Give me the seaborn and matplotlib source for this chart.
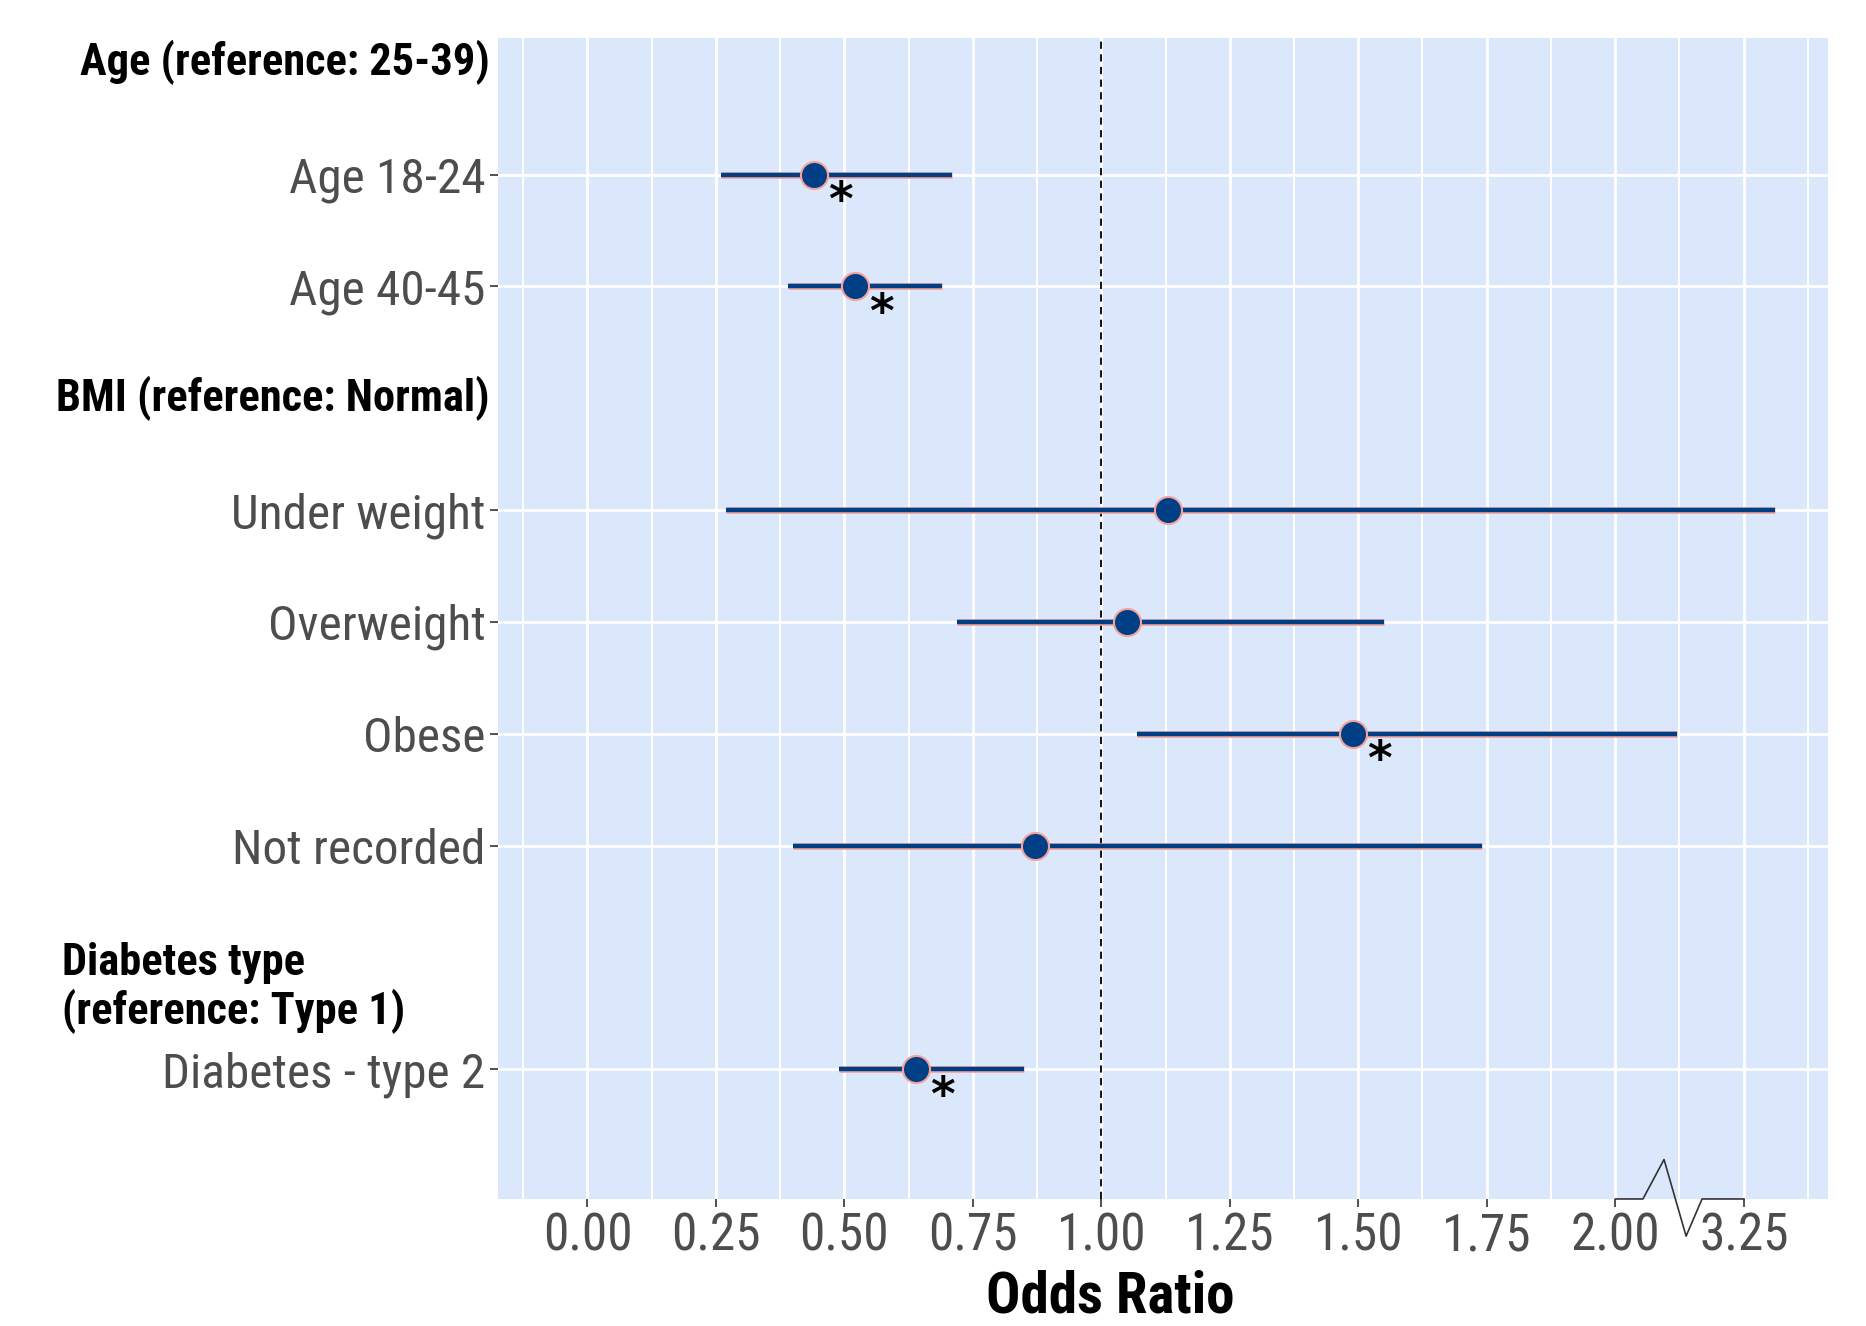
import numpy as np
import pandas as pd
import matplotlib
matplotlib.use("Agg")
import matplotlib.pyplot as plt
import seaborn as sns
from matplotlib.ticker import FixedLocator, FixedFormatter

# data
groups = ["Age (reference: 25-39)", "BMI (reference: Normal)", "Diabetes type\n(reference: Type 1)"]
labels = ["Age 18-24", "Age 40-45", "Under weight", "Overweight", "Obese", "Not recorded", "Diabetes - type 2"]
group_of = [0, 0, 1, 1, 1, 1, 2]
odds = [0.44, 0.52, 1.13, 1.05, 1.49, 0.87, 0.64]
lower = [0.26, 0.39, 0.27, 0.72, 1.07, 0.40, 0.49]
upper = [0.71, 0.69, 3.31, 1.55, 2.12, 1.74, 0.85]
significant = [True, True, False, False, True, False, True]
xticks = [0.0, 0.25, 0.5, 0.75, 1.0, 1.25, 1.5, 1.75, 2.0, 3.25]
xticklabels = ["0.00", "0.25", "0.50", "0.75", "1.00", "1.25", "1.50", "1.75", "2.00", "3.25"]

# rows: each group header followed by its members
rows, row_is_header = [], []
for g, name in enumerate(groups):
    rows.append(name); row_is_header.append(True)
    for lab, gi in zip(labels, group_of):
        if gi == g:
            rows.append(lab); row_is_header.append(False)
ypos = {r: i for i, r in enumerate(rows)}

df = pd.DataFrame({"label": labels, "odds": odds, "lower": lower, "upper": upper,
                   "sig": significant})
df["row"] = df["label"].map(ypos)

# broken x axis: 2.2 .. 3.2 squeezed to nothing
eps = 1e-3
real_pts = np.array([-5.0, 2.2, 3.2, 10.0])
disp_pts = np.array([-5.0, 2.2, 2.2 + eps, 2.2 + eps + 6.8])
fwd = lambda x: np.interp(x, real_pts, disp_pts)
inv = lambda x: np.interp(x, disp_pts, real_pts)

sns.set_theme(style="white")
plt.rcParams["font.family"] = ["Roboto Condensed", "DejaVu Sans"]

fig = plt.figure(figsize=(18.66, 13.26), dpi=100)
ax = fig.add_axes([0.2669, 0.0958, 0.7127, 0.8755])
ax.set_facecolor("#DBE8FC")
ax.set_xscale("function", functions=(fwd, inv))
ax.set_xlim(-0.174, 3.413)
ax.set_ylim(len(rows) - 1 + 1.16, -0.22)

# grid
minor = [-0.125, 0.125, 0.375, 0.625, 0.875, 1.125, 1.375, 1.625, 1.875, 2.125, 3.375]
for v in minor:
    ax.axvline(v, color="white", lw=1.4, zorder=0)
for v in xticks:
    ax.axvline(v, color="white", lw=2.0, zorder=0)
for r in df["row"]:
    ax.axhline(r, color="white", lw=2.0, zorder=0)
for s in ax.spines.values():
    s.set_visible(False)

ax.axvline(1.0, color="black", lw=1.3, ls=(0, (4, 3)), zorder=1)

# confidence intervals with thin salmon outline
ax.hlines(df["row"], df["lower"], df["upper"], color="#F4A39A", lw=4.8, zorder=2)
ax.hlines(df["row"], df["lower"], df["upper"], color="#003E85", lw=3.2, zorder=3)
sns.scatterplot(data=df, x="odds", y="row", ax=ax, s=380, color="#003E85",
                edgecolor="#F4A39A", linewidth=1.5, zorder=4, legend=False)

for _, r in df[df["sig"]].iterrows():
    ax.annotate("*", (r["odds"], r["row"]), xytext=(19, -20), textcoords="offset points",
                ha="center", va="center", fontsize=34, fontweight="bold", color="black",
                family="DejaVu Sans", zorder=5)

# axes ticks and labels
ax.xaxis.set_major_locator(FixedLocator(xticks))
ax.xaxis.set_major_formatter(FixedFormatter(xticklabels))
ax.xaxis.set_minor_locator(FixedLocator([]))
ax.set_yticks(df["row"])
ax.set_yticklabels(df["label"])
ax.tick_params(axis="x", which="major", labelsize=37)
ax.tick_params(axis="y", which="major", labelsize=35.5)
ax.tick_params(axis="both", which="major", labelcolor="#4D4D4D",
               color="#333333", length=6, width=1.2, bottom=True, left=True, pad=3)
ax.set_xlabel("Odds Ratio", fontsize=41, fontweight="bold", color="black")
ax.xaxis.set_label_coords(0.4606, -0.061)
ax.set_ylabel("")

# group headers
for name, hdr in zip(rows, row_is_header):
    if not hdr:
        continue
    if "\n" in name:
        ax.annotate(name, (0.033, ypos[name]), xycoords=("figure fraction", "data"),
                    xytext=(0, -22), textcoords="offset points", ha="left", va="center",
                    fontsize=32, fontweight="bold", color="black", linespacing=1.15,
                    annotation_clip=False)
    else:
        ax.annotate(name, (0.0, ypos[name]), xycoords=("axes fraction", "data"),
                    xytext=(-6, 0), textcoords="offset points", ha="right", va="center",
                    fontsize=32, fontweight="bold", color="black", annotation_clip=False)

# axis break marker between 2.00 and 3.25
brk_x = [2.0, 2.054, 2.095, 2.138, 2.169, 3.25]
brk_y = [0.0, 0.0, 0.034, -0.032, 0.0, 0.0]
ax.plot(brk_x, brk_y, transform=ax.get_xaxis_transform(), color="#333333", lw=1.2,
        clip_on=False, zorder=6)

fig.savefig("out.png", dpi=100)
